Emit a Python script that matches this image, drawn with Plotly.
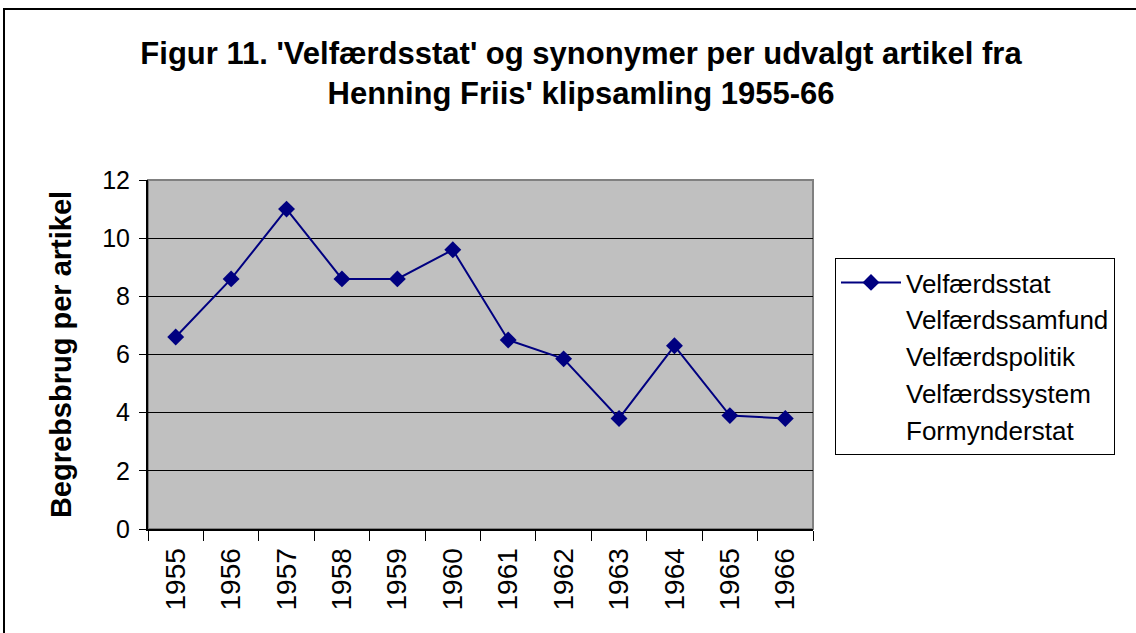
import plotly.graph_objects as go

years = ["1955", "1956", "1957", "1958", "1959", "1960", "1961", "1962", "1963", "1964", "1965", "1966"]
velfaerdsstat = [6.6, 8.6, 11.0, 8.6, 8.6, 9.6, 6.5, 5.85, 3.8, 6.3, 3.9, 3.8]
other_series = ["Velfærdssamfund", "Velfærdspolitik", "Velfærdssystem", "Formynderstat"]

FONT = "Liberation Sans, Arial, sans-serif"
W, H = 1136, 633
L, R, T, B = 148, 323, 180, 104
pw, ph = W - L - R, H - T - B

def px_x(p):
    return (p - L) / pw

def px_y(p):
    return (H - B - p) / ph

fig = go.Figure()
fig.add_trace(go.Scatter(
    x=years, y=velfaerdsstat, mode="lines+markers", name="Velfærdsstat",
    line=dict(color="#000080", width=2),
    marker=dict(symbol="diamond", size=13, color="#000080"),
))
for name in other_series:
    fig.add_trace(go.Scatter(
        x=[None], y=[None], mode="lines", name=name,
        line=dict(color="rgba(0,0,0,0)", width=0),
    ))

# plot-area border (top/right grey)
fig.add_shape(type="rect", xref="x domain", yref="y domain", x0=0, x1=1, y0=0, y1=1,
              line=dict(color="#808080", width=2), layer="below")
# outer chart border
fig.add_shape(type="rect", xref="paper", yref="paper",
              x0=px_x(4), x1=px_x(1145), y0=px_y(645), y1=px_y(9),
              line=dict(color="black", width=2))

fig.update_layout(
    width=W, height=H,
    margin=dict(l=L, r=R, t=T, b=B, autoexpand=False),
    paper_bgcolor="white", plot_bgcolor="#C0C0C0",
    font=dict(family=FONT, color="black", size=24),
    title=dict(
        text="<b>Figur 11. 'Velfærdsstat' og synonymer per udvalgt artikel fra<br>Henning Friis' klipsamling 1955-66</b>",
        x=581 / W, xanchor="center", y=1 - 64 / H, yanchor="middle",
        font=dict(family=FONT, size=31, color="black"),
    ),
    showlegend=True,
    legend=dict(
        x=px_x(835), y=px_y(258), xanchor="left", yanchor="top",
        bgcolor="white", bordercolor="black", borderwidth=1,
        font=dict(family=FONT, size=26, color="black"),
        itemwidth=60, tracegroupgap=0,
    ),
    xaxis=dict(
        type="category", tickson="boundaries", ticks="outside", ticklen=10,
        tickcolor="black", showline=True, linecolor="black", linewidth=2,
        showgrid=False, tickangle=-90, tickfont=dict(size=28),
        ticklabelstandoff=6,
        range=[-0.5, 11.5],
    ),
    yaxis=dict(
        range=[0, 12], dtick=2, ticks="outside", ticklen=7, tickcolor="black",
        showline=True, linecolor="black", linewidth=2,
        showgrid=True, gridcolor="black", gridwidth=1, zeroline=False,
        tickfont=dict(size=25), ticklabelstandoff=4,
        title=dict(text="<b>Begrebsbrug per artikel</b>", font=dict(size=29), standoff=22),
    ),
)

fig.write_html("out.html", config={"displayModeBar": False},
               post_script="document.body.style.margin='0px';")
